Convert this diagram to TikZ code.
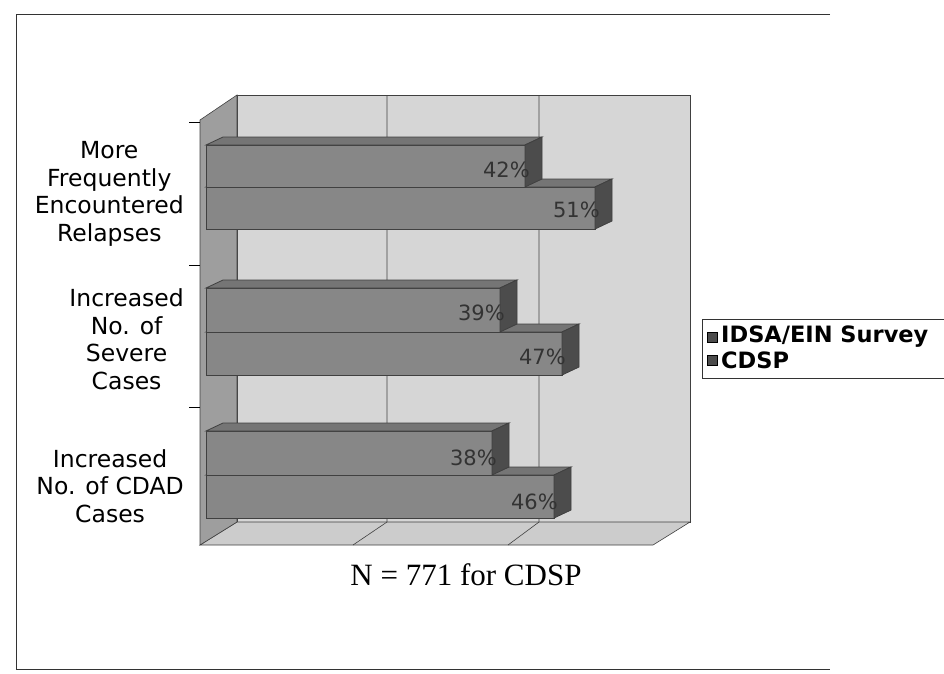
\documentclass[tikz,border=0pt]{standalone}
\usepackage{fontspec}
\setmainfont{Liberation Serif}
\newfontfamily\verd{DejaVu Sans}
\definecolor{backwall}{gray}{0.84}
\definecolor{sidewall}{gray}{0.62}
\definecolor{floorc}{gray}{0.80}
\definecolor{barfront}{gray}{0.53}
\definecolor{bartop}{gray}{0.46}
\definecolor{barside}{gray}{0.30}
\definecolor{edgec}{gray}{0.25}
\begin{document}
\begin{tikzpicture}[x=1pt,y=-1pt,
  wall/.style={draw=edgec,line width=0.6pt},
  grid/.style={draw=black!75,line width=0.6pt},
  barface/.style={draw=edgec,line width=0.8pt},
  cat/.style={font=\verd\fontsize{23.5}{27.5}\selectfont,align=center,anchor=east,inner sep=0pt},
  pct/.style={font=\verd\fontsize{21}{24}\selectfont,text=black!80,anchor=east,inner sep=0pt},
  leg/.style={font=\verd\bfseries\fontsize{22.5}{24}\selectfont,anchor=west,inner sep=0pt},
  legsq/.style={draw=black,fill=barside,minimum size=10pt,inner sep=0pt}]
\useasboundingbox (0,0) rectangle (944,673);
% outer frame
\draw[black!80,line width=1pt] (830,14) -- (16,14) -- (16,669) -- (830,669);
% walls
\fill[backwall] (237,95) rectangle (690,522);
\draw[wall] (237,95) rectangle (690,522);
\fill[floorc] (200,545) -- (237,522) -- (690,522) -- (653,545) -- cycle;
\draw[wall] (200,545) -- (237,522) -- (690,522) -- (653,545) -- cycle;
\fill[sidewall] (200,120) -- (237,95) -- (237,522) -- (200,545) -- cycle;
\draw[wall] (200,120) -- (237,95) -- (237,522) -- (200,545) -- cycle;
% gridlines
\draw[grid] (387,95) -- (387,522) -- (353,545);
\draw[grid] (539,95) -- (539,522) -- (508,545);
% category ticks
\foreach \yy in {122,265,407} \draw[black,line width=0.8pt] (189,\yy) -- (200,\yy);
% bars: {xend}{ytop}{ybottom}
\newcommand{\hbarthree}[3]{%
  \fill[barfront] (206,#2) rectangle (#1,#3);
  \draw[barface] (206,#2) rectangle (#1,#3);
  \fill[bartop] (206,#2) -- (223,#2-8) -- (#1+17,#2-8) -- (#1,#2) -- cycle;
  \draw[barface] (206,#2) -- (223,#2-8) -- (#1+17,#2-8) -- (#1,#2) -- cycle;
  \fill[barside] (#1,#2) -- (#1+17,#2-8) -- (#1+17,#3-8) -- (#1,#3) -- cycle;
  \draw[barface] (#1,#2) -- (#1+17,#2-8) -- (#1+17,#3-8) -- (#1,#3) -- cycle;}
% top category
\hbarthree{595}{187}{229}
\hbarthree{525}{145}{187}
% middle
\hbarthree{562}{332}{375}
\hbarthree{500}{288}{332}
% bottom
\hbarthree{554}{475}{518}
\hbarthree{492}{431}{475}
% value labels
\node[pct] (v1) at (530,170) {42\%};
\node[pct] (v2) at (600,210) {51\%};
\node[pct] (v3) at (505,313) {39\%};
\node[pct] (v4) at (566,357) {47\%};
\node[pct] (v5) at (497,458) {38\%};
\node[pct] (v6) at (558,502) {46\%};
% category labels
\node[cat] (c1) at (184,194) {More\\Frequently\\Encountered\\Relapses};
\node[cat] (c2) at (184,339) {Increased\\No. of\\Severe\\Cases};
\node[cat] (c3) at (184,486) {Increased\\No. of CDAD\\Cases};
% legend
\draw[black!80,line width=0.8pt] (960,319) -- (702,319) -- (702,378) -- (960,378);
\node[legsq] (s1) at (712,337) {};
\node[legsq] (s2) at (712,360) {};
\node[leg] (l1) at (721,337) {IDSA/EIN Survey};
\node[leg] (l2) at (721,360) {CDSP};
% note
\node[font=\fontsize{31}{36}\selectfont,inner sep=0pt] (note) at (466,575) {N = 771 for CDSP};
\end{tikzpicture}
\end{document}
